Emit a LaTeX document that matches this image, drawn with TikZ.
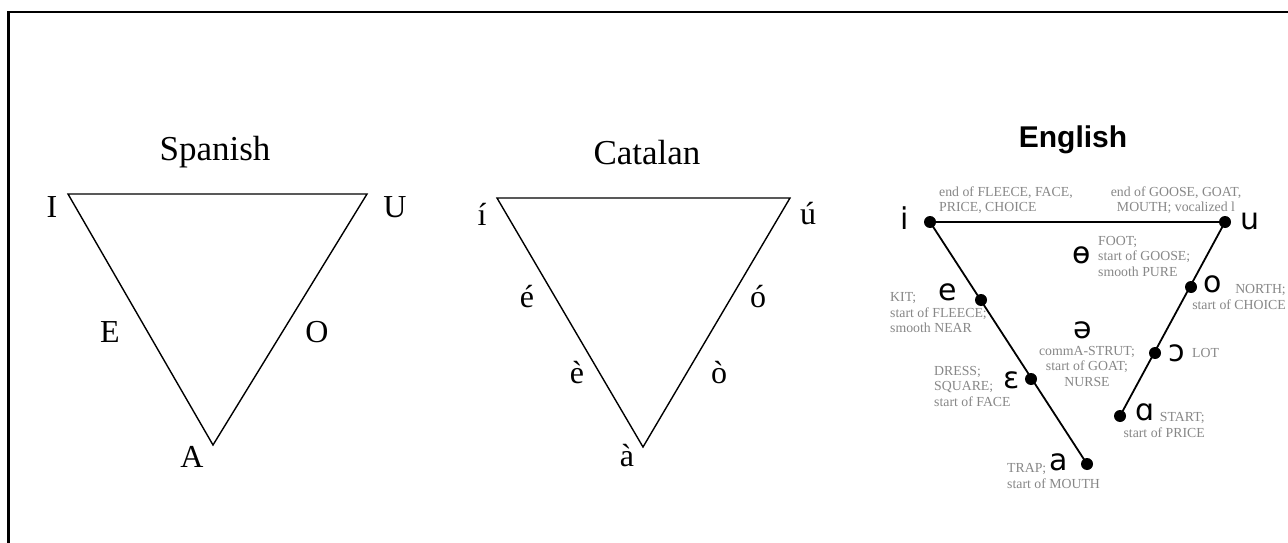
\documentclass[tikz,border=0pt]{standalone}
\usepackage{fontspec}
\setmainfont{Liberation Serif}
\newfontfamily\ipafont{DejaVu Sans}
\newfontfamily\hfont{Liberation Sans}
\definecolor{lblgray}{RGB}{135,135,135}
\tikzset{
  ttl/.style={inner sep=0pt, font=\fontsize{35}{40}\selectfont},
  vl/.style={inner sep=0pt, font=\fontsize{32}{36}\selectfont},
  tri/.style={line width=1.4pt, line join=miter},
  ipa/.style={inner sep=0pt, font=\ipafont\fontsize{30}{34}\selectfont},
  lbl/.style={inner sep=0pt, text=lblgray, font=\fontsize{13.8}{15.5}\selectfont},
  eline/.style={line width=1.8pt},
  dot/.style={circle, fill=black, inner sep=0pt, minimum size=12pt},
}
\begin{document}
\begin{tikzpicture}[x=1pt,y=-1pt]
\useasboundingbox (0,0) rectangle (1288,543);
\clip (0,0) rectangle (1288,543);
\fill[white] (0,0) rectangle (1288,543);
\draw[line width=2.5pt] (8.5,600) -- (8.5,12) -- (1300,12);

% ---------- Spanish ----------
\node[ttl] (tS) at (215,152) {Spanish};
\coordinate (sI) at (68,194);
\coordinate (sU) at (367,194);
\coordinate (sA) at (213,445);
\draw[tri] (sI) -- (sU) -- (sA) -- cycle;
\node[vl] (lI) at (52,207) {I};
\node[vl] (lU) at (395,207) {U};
\node[vl] (lE) at (110,332) {E};
\node[vl] (lO) at (317,332) {O};
\node[vl] (lA) at (192,457) {A};

% ---------- Catalan ----------
\node[ttl] (tC) at (647,153) {Catalan};
\coordinate (ci) at (497,198);
\coordinate (cu) at (790,198);
\coordinate (ca) at (643,447);
\draw[tri] (ci) -- (cu) -- (ca) -- cycle;
\node[vl] (li) at (482,214) {í};
\node[vl] (lu) at (808,214) {ú};
\node[vl] (le1) at (527,297) {é};
\node[vl] (le2) at (577,373) {è};
\node[vl] (la) at (627,456) {à};
\node[vl] (lo1) at (758,297) {ó};
\node[vl] (lo2) at (719,373) {ò};

% ---------- English ----------
\node[inner sep=0pt, font=\hfont\bfseries\fontsize{30}{34}\selectfont] (tE) at (1073,140) {English};
\node[dot] (di) at (930,222) {};
\node[dot] (du) at (1225,222) {};
\node[dot] (de) at (981,300) {};
\node[dot] (deps) at (1031,379) {};
\node[dot] (da) at (1087,464) {};
\node[dot] (do) at (1191,287) {};
\node[dot] (dopen) at (1155,353) {};
\node[dot] (dalpha) at (1120,416) {};
\draw[eline] (di.center) -- (du.center);
\draw[eline] (di.center) -- (da.center);
\draw[eline] (du.center) -- (dalpha.center);

\node[ipa] (gi) at (905,218) {i};
\node[ipa] (gu) at (1250,221) {u};
\node[ipa] (gtheta) at (1082,255) {ɵ};
\node[ipa] (ge) at (948,292) {e};
\node[ipa] (go) at (1213,284) {o};
\node[ipa] (gschwa) at (1083,330) {ə};
\node[ipa] (gopen) at (1177,353) {ɔ};
\node[ipa] (geps) at (1012,380) {ɛ};
\node[ipa] (galpha) at (1145,412) {ɑ};
\node[ipa] (ga) at (1059,462) {a};

\node[lbl, anchor=west, align=left] (n1) at (939,200) {end of FLEECE, FACE,\\PRICE, CHOICE};
\node[lbl, align=center] (n2) at (1176,200) {end of GOOSE, GOAT,\\MOUTH; vocalized l};
\node[lbl, anchor=west, align=left] (n3) at (1098,256) {FOOT;\\start of GOOSE;\\smooth PURE};
\node[lbl, anchor=east, align=right] (n4) at (1286,297) {NORTH;\\start of CHOICE};
\node[lbl, anchor=west, align=left] (n5) at (890,313) {KIT;\\start of FLEECE;\\smooth NEAR};
\node[lbl, align=center] (n6) at (1087,366) {commA-STRUT;\\start of GOAT;\\NURSE};
\node[lbl, anchor=west, align=left] (n7) at (934,386) {DRESS;\\SQUARE;\\start of FACE};
\node[lbl, anchor=west] (n8) at (1192,353) {LOT};
\node[lbl, anchor=east, align=right] (n9) at (1205,425) {START;\\start of PRICE};
\node[lbl, anchor=west, align=left] (n10) at (1007,476) {TRAP;\\start of MOUTH};
\end{tikzpicture}
\end{document}
